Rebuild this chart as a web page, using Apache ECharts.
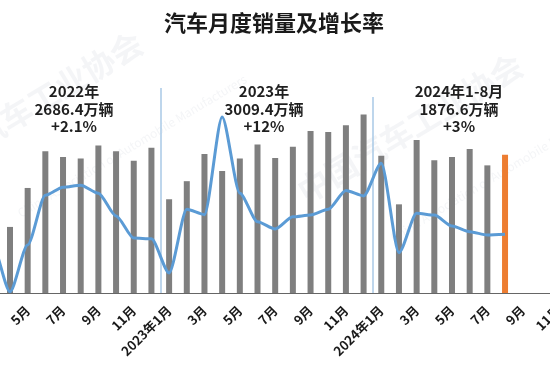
<!DOCTYPE html>
<html>
<head>
<meta charset="utf-8">
<script src="https://cdn.jsdelivr.net/npm/echarts@6/dist/echarts.min.js"></script>
<style>
html,body{margin:0;padding:0;background:#fff}
#main{width:550px;height:378px}
</style>
</head>
<body>
<div id="main"></div>
<script>
// 月份(2022年1月 - 2024年12月)
var months = ['2022年1月','2月','3月','4月','5月','6月','7月','8月','9月','10月','11月','12月',
  '2023年1月','2月','3月','4月','5月','6月','7月','8月','9月','10月','11月','12月',
  '2024年1月','2月','3月','4月','5月','6月','7月','8月','9月','10月','11月','12月'];

// 销量(万辆)
var sales = [253,174,223,117,186,251,241,238,261,251,234,257,
  166,198,246,216,238,263,239,259,287,285,297,316,
  243,157,271,235,241,255,226,245,null,null,null,null];

// 同比增长率(%)
var growth = [1,19,-12,-47.6,-12.6,24.5,30.5,32,26,9,-7.5,-8,
  -33.5,14,10,83,26,4.7,-0.7,8.4,9.7,14,28,24,
  48.3,-18.4,11,9.7,1.5,-2.8,-5.2,-4.7,null,null,null,null];

// 年份分隔线位置及高度
var yearSplit = [11.5, 23.5];
var yearSplitTop = [363, 347];

// 年度说明
var noteTitle = ['2022年','2023年','2024年1-8月'];
var noteTotal = ['2686.4万辆','3009.4万辆','1876.6万辆'];
var noteRate = ['+2.1%','+12%','+3%'];
var noteX = [74, 264, 459];

var font = '"Noto Sans CJK SC", "Noto Sans", sans-serif';

//最后一个月用橙色
var lastIdx = 0;
for(var i = 0; i < sales.length; i++){
  if(sales[i] != null) lastIdx = i
}
var barData = sales.map(function(v, i){
  if(i == lastIdx) return {value: v, itemStyle: {color: '#ED7D31'}}
  return v
})

var splitLines = yearSplit.map(function(x, i){
  return [{coord: [x, yearSplitTop[i]]}, {coord: [x, 0]}]
})

var graphics = [];
// 水印
var marks = [[30, 106, 132, 146], [410, 128, 505, 170]];
marks.forEach(function(m){
  graphics.push({
    type: 'text', x: m[0], y: m[1], rotation: 31 * Math.PI / 180, z: -10,
    style: {text: '中国汽车工业协会', font: 'bold 32px ' + font, fill: 'rgba(120,130,150,0.08)',
      textAlign: 'center', textVerticalAlign: 'middle'}
  })
  graphics.push({
    type: 'text', x: m[2], y: m[3], rotation: 31 * Math.PI / 180, z: -10,
    style: {text: 'China Association of Automobile Manufacturers', font: '12px ' + font,
      fill: 'rgba(120,130,150,0.08)', textAlign: 'center', textVerticalAlign: 'middle'}
  })
})
// 年度说明
for(var k = 0; k < noteTitle.length; k++){
  graphics.push({
    type: 'text', x: noteX[k], y: 83, z: 10,
    style: {text: noteTitle[k] + '\n' + noteTotal[k] + '\n' + noteRate[k],
      font: 'bold 15px ' + font, lineHeight: 17.5, fill: '#1f1f1f', textAlign: 'center'}
  })
}

var chart = echarts.init(document.getElementById('main'));
var option = {
  backgroundColor: '#fff',
  animation: false,
  title: {
    text: '汽车月度销量及增长率',
    left: 269, top: 7, textAlign: 'center',
    textStyle: {fontFamily: font, fontSize: 22, fontWeight: 'bold', color: '#1a1a1a'}
  },
  graphic: graphics,
  grid: {left: -51.9, right: -34.6, top: 40, bottom: 85, outerBoundsMode: 'none'},
  xAxis: [{
    type: 'category',
    data: months,
    axisLine: {lineStyle: {color: '#666', width: 1}},
    axisTick: {show: false},
    axisLabel: {
      interval: 1, rotate: 45, margin: 15,
      fontFamily: font, fontSize: 13, fontWeight: 'bold', color: '#1a1a1a'
    }
  }, {
    type: 'value', min: -0.5, max: 35.5, show: false
  }],
  yAxis: [
    {type: 'value', min: 0, max: 448, show: false},
    {type: 'value', min: -48.5, max: 140.4, show: false}
  ],
  series: [{
    name: '销量',
    type: 'bar',
    data: barData,
    barWidth: 6,
    itemStyle: {color: '#7f7f7f'}
  }, {
    name: '增长率',
    type: 'line',
    yAxisIndex: 1,
    data: growth,
    smooth: 0.25,
    smoothMonotone: 'x',
    symbol: 'none',
    lineStyle: {color: '#5B9BD5', width: 3},
    z: 5
  }, {
    name: '分隔',
    type: 'line',
    xAxisIndex: 1,
    data: [],
    markLine: {
      silent: true,
      symbol: 'none',
      label: {show: false},
      lineStyle: {color: '#a9c8e6', width: 1.5, type: 'solid'},
      data: splitLines
    }
  }]
}
chart.setOption(option);
</script>
</body>
</html>
